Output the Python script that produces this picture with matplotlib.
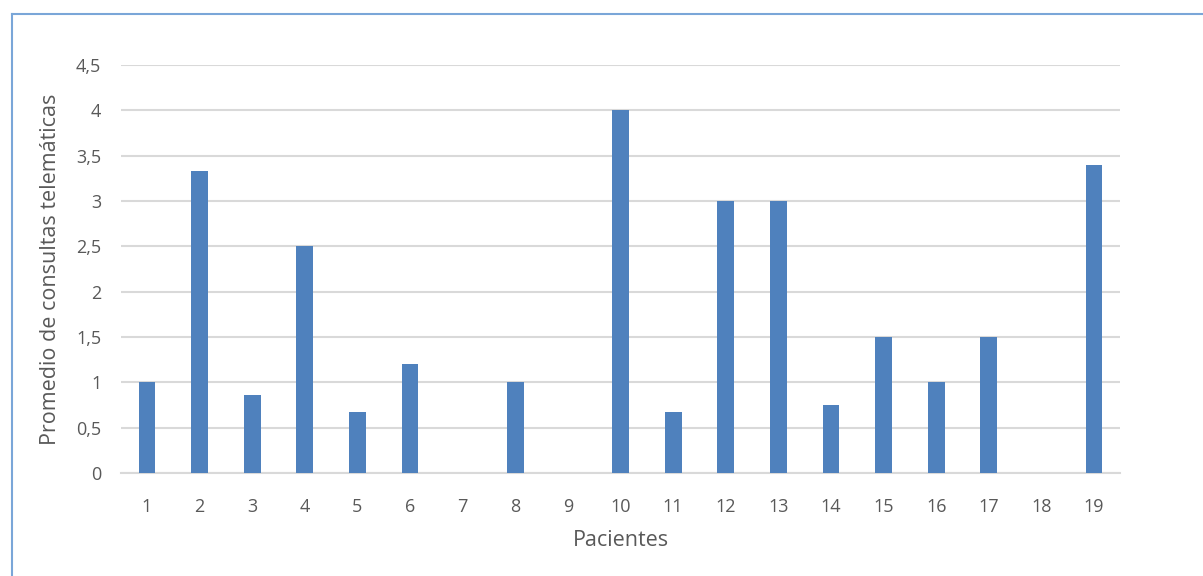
import numpy as np
import matplotlib.pyplot as plt
from matplotlib.lines import Line2D

pacientes = [str(i) for i in range(1, 20)]
promedio = [1.0, 3.33, 0.86, 2.5, 0.67, 1.2, 0, 1.0, 0, 4.0,
            0.67, 3.0, 3.0, 0.75, 1.5, 1.0, 1.5, 0, 3.4]
yticks = [0, 0.5, 1, 1.5, 2, 2.5, 3, 3.5, 4, 4.5]
ytick_labels = ['0', '0,5', '1', '1,5', '2', '2,5', '3', '3,5', '4', '4,5']

plt.rcParams['font.family'] = ['Open Sans', 'DejaVu Sans']
gray = '#595959'

fig = plt.figure(figsize=(12.03, 5.76), dpi=100)
ax = fig.add_axes([0.1003, 0.1788, 0.831, 0.7084])

x = np.arange(len(pacientes))
ax.bar(x, promedio, width=0.32, color='#4f81bd', zorder=3)

ax.set_xlim(-0.5, len(pacientes) - 0.5)
ax.set_ylim(0, 4.5)
ax.set_yticks(yticks)
ax.set_yticklabels(ytick_labels)
ax.set_xticks(x)
ax.set_xticklabels(pacientes)
ax.tick_params(axis='both', length=0, labelsize=13, colors=gray)
ax.tick_params(axis='x', pad=18)
ax.tick_params(axis='y', pad=14)

ax.grid(axis='y', color='#d9d9d9', linewidth=1.5, zorder=0)
for side in ['top', 'right', 'left']:
    ax.spines[side].set_visible(False)
ax.spines['bottom'].set_color('#d9d9d9')
ax.spines['bottom'].set_linewidth(1.5)

ax.set_xlabel('Pacientes', fontsize=15.5, color=gray, labelpad=10)
ax.set_ylabel('Promedio de consultas telemáticas', fontsize=15.5, color=gray, labelpad=11)

# light blue frame around the chart
fig.add_artist(Line2D([12 / 1203, 12 / 1203], [0, 1 - 14 / 576],
                      transform=fig.transFigure, color='#7aa6d8', linewidth=1.5))
fig.add_artist(Line2D([12 / 1203, 1], [1 - 14 / 576, 1 - 14 / 576],
                      transform=fig.transFigure, color='#7aa6d8', linewidth=1.5))

fig.savefig('out.png', dpi=100)
